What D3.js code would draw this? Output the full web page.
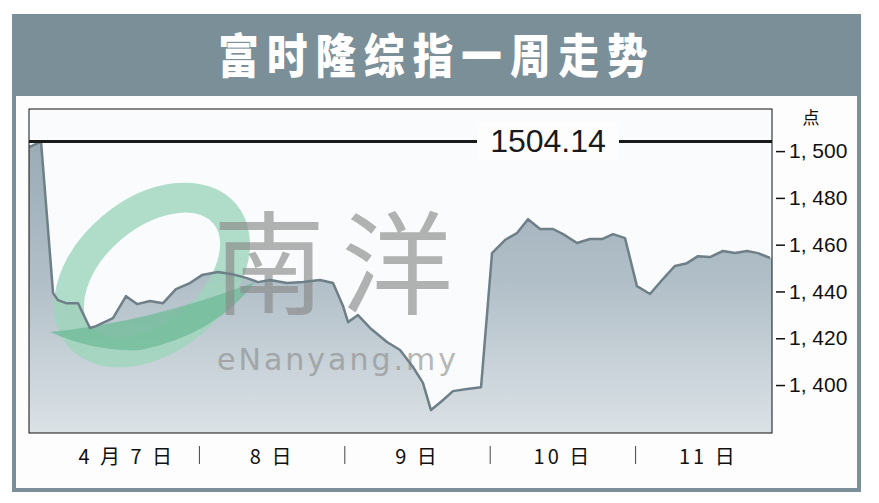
<!DOCTYPE html>
<html><head><meta charset="utf-8">
<script src="https://cdn.jsdelivr.net/npm/d3@7/dist/d3.min.js"></script>
<style>
html,body{margin:0;padding:0;background:#fff;}
svg{display:block;}
</style></head>
<body><svg id="c" width="879" height="503"></svg>
<script>
// ---- data ----
const title = "富时隆综指一周走势";
const unitLabel = "点";
const dayLabels = ["4 月 7 日", "8 日", "9 日", "10 日", "11 日"];
const yTicks = [1400, 1420, 1440, 1460, 1480, 1500];
const refValue = 1504.14;
// time in trading-day units (0..5) and index level
const times = [0.013,0.081,0.162,0.195,0.249,0.330,0.410,0.451,0.565,0.653,0.727,0.814,0.902,0.989,
  1.083,1.164,1.272,1.366,1.467,1.541,1.622,1.736,1.844,1.958,
  2.046,2.113,2.147,2.214,2.295,2.409,2.497,2.584,2.651,2.705,2.779,2.853,2.947,
  3.042,3.116,3.203,3.284,3.358,3.439,3.526,3.594,3.688,3.775,3.856,3.930,
  4.011,4.091,4.179,4.260,4.347,4.428,4.502,4.583,4.670,4.751,4.832,4.906,4.987];
const values = [1502.0,1504.1,1439.3,1436.3,1435.0,1435.0,1424.4,1425.2,1428.6,1438.0,1434.6,1435.9,1435.0,1441.0,
  1443.6,1447.0,1448.3,1447.4,1445.7,1444.0,1444.9,1443.6,1444.0,1444.9,
  1443.6,1433.8,1426.9,1429.9,1424.4,1418.4,1415.0,1407.7,1400.9,1389.3,1393.2,1397.4,1398.3,
  1399.1,1456.4,1462.0,1465.0,1470.9,1466.7,1466.7,1464.5,1460.7,1462.4,1462.4,1464.5,
  1462.8,1442.3,1438.9,1444.9,1450.9,1452.1,1455.1,1454.7,1457.3,1456.4,1457.3,1456.4,1454.3];
const series = times.map((t,i)=>({t, v: values[i]}));

// ---- layout ----
const svg = d3.select("#c");
const P = {l:29, r:772, t:109, b:433};
const x = d3.scaleLinear().domain([0,5]).range([P.l, P.r]);
const y = d3.scaleLinear().domain([1379.5, 1518]).range([P.b, P.t]);
const xb = d3.scaleBand().domain(dayLabels).range([54, 781]);

// frame
svg.append("rect").attr("x",12).attr("y",14).attr("width",849).attr("height",478).attr("fill","#7b8f99");
svg.append("rect").attr("x",16).attr("y",96).attr("width",841).attr("height",392).attr("fill","#fdfdfd");
svg.append("text").attr("transform","translate(437,73) scale(0.9,1.04)").attr("text-anchor","middle")
  .attr("fill","#fff").attr("font-family","'Noto Sans CJK SC'").attr("font-weight",900)
  .attr("font-size",45).attr("letter-spacing",9).text(title);

// plot background
svg.append("rect").attr("x",P.l).attr("y",P.t).attr("width",P.r-P.l).attr("height",P.b-P.t).attr("fill","#fafbfc");

const defs = svg.append("defs");
const g = defs.append("linearGradient").attr("id","fillg").attr("gradientUnits","userSpaceOnUse")
  .attr("x1",0).attr("y1",150).attr("x2",0).attr("y2",P.b);
g.append("stop").attr("offset",0).attr("stop-color","#9cadb8");
g.append("stop").attr("offset",0.45).attr("stop-color","#b0bec7");
g.append("stop").attr("offset",1).attr("stop-color","#dbe2e6");

const clip = defs.append("clipPath").attr("id","pc");
clip.append("rect").attr("x",P.l).attr("y",P.t).attr("width",P.r-P.l).attr("height",P.b-P.t);

const plot = svg.append("g").attr("clip-path","url(#pc)");
const area = d3.area().x(d=>x(d.t)).y0(P.b).y1(d=>y(d.v));
const line = d3.line().x(d=>x(d.t)).y(d=>y(d.v));
const areaData = [{t:0, v:values[0]}].concat(series).concat([{t:5, v:values[values.length-1]}]);
plot.append("path").datum(areaData).attr("d",area).attr("fill","url(#fillg)");

// watermark
const wm = plot.append("g");
wm.append("ellipse").attr("cx",152).attr("cy",275).attr("rx",95).attr("ry",62)
  .attr("transform","rotate(-40 152 275)").attr("fill","none").attr("stroke","#9ed6bb").attr("stroke-width",30).attr("opacity",0.8);
wm.append("path").attr("d","M50,332 Q150,322 255,282 Q215,335 140,350 Q95,352 50,332 Z").attr("fill","#6dbb97").attr("opacity",0.75);
wm.append("text").attr("x",213).attr("y",306).attr("font-family","'Noto Sans CJK SC'").attr("font-size",112)
  .attr("letter-spacing",16).attr("fill","#8a8a8a").attr("opacity",0.65).text("南洋");
wm.append("text").attr("x",217).attr("y",370).attr("font-family","'DejaVu Sans'").attr("font-size",30)
  .attr("letter-spacing",3).attr("fill","#8a8a8a").attr("opacity",0.6).text("eNanyang.my");

plot.append("path").datum([{t:0, v:values[0]}].concat(series)).attr("d",line).attr("fill","none")
  .attr("stroke","#6e7f88").attr("stroke-width",2.5).attr("stroke-linejoin","round");

// reference line
svg.append("line").attr("x1",P.l).attr("x2",P.r).attr("y1",y(refValue)).attr("y2",y(refValue))
  .attr("stroke","#1a1a1a").attr("stroke-width",3);
svg.append("rect").attr("x",477).attr("y",y(refValue)-19).attr("width",142).attr("height",38).attr("fill","#fdfdfd");
svg.append("text").attr("x",548).attr("y",y(refValue)+11).attr("text-anchor","middle")
  .attr("font-family","'Liberation Sans', Arial").attr("font-size",32).attr("fill","#1a1a1a").text(refValue.toFixed(2));

// plot border
svg.append("rect").attr("x",P.l).attr("y",P.t).attr("width",P.r-P.l).attr("height",P.b-P.t)
  .attr("fill","none").attr("stroke","#111").attr("stroke-width",1);

// y axis
const ya = svg.append("g").attr("transform",`translate(776,0)`)
  .call(d3.axisRight(y).tickValues(yTicks).tickSize(9).tickPadding(4)
    .tickFormat(d=>d3.format(",")(d).replace(",", ", ")));
ya.select(".domain").remove();
ya.selectAll("line").attr("stroke","#111").attr("stroke-width",1.5);
ya.selectAll("text").attr("font-family","'Liberation Sans', Arial").attr("font-size",21).attr("fill","#111");
svg.append("text").attr("x",811).attr("y",124).attr("text-anchor","middle")
  .attr("font-family","'Noto Sans CJK SC'").attr("font-size",17).attr("fill","#111").text(unitLabel);

// x labels
svg.append("g").selectAll("text").data(dayLabels).join("text")
  .attr("x",d=>xb(d)+xb.bandwidth()/2).attr("y",464).attr("text-anchor","middle")
  .attr("font-family","'Noto Sans CJK SC'").attr("font-size",20).attr("letter-spacing",3).attr("fill","#111").text(d=>d);
svg.append("g").selectAll("line").data(dayLabels.slice(1)).join("line")
  .attr("x1",d=>xb(d)).attr("x2",d=>xb(d)).attr("y1",446).attr("y2",464)
  .attr("stroke","#444").attr("stroke-width",1);
</script></body></html>
